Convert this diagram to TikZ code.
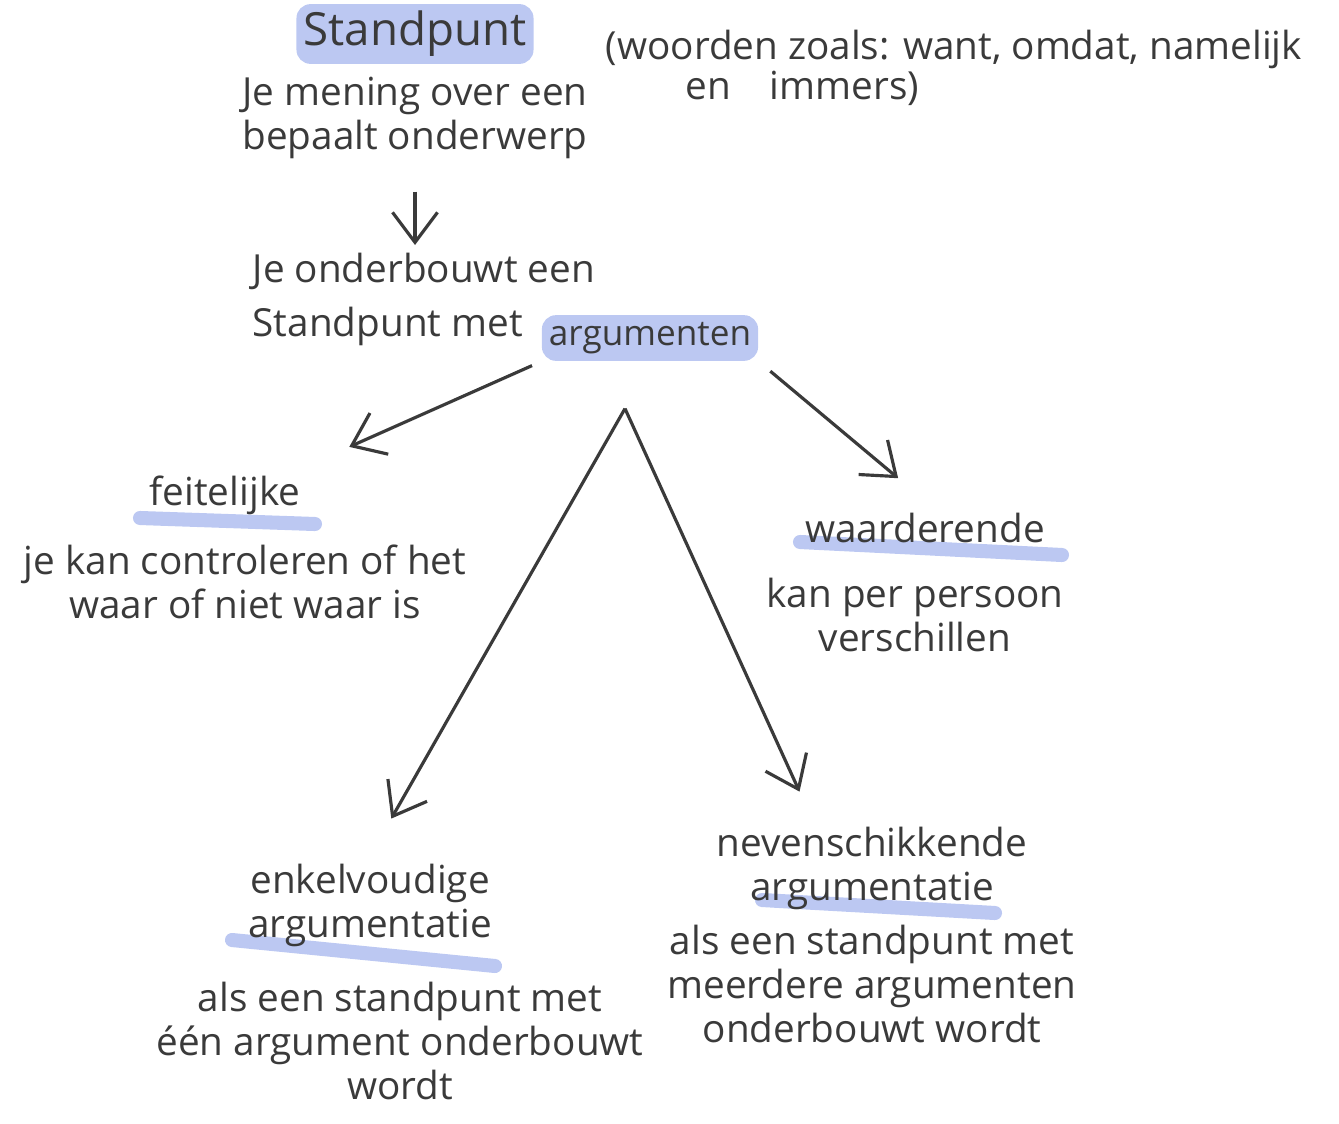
\documentclass[tikz,border=0pt]{standalone}
\usepackage{fontspec}
\setmainfont{Open Sans}
\usepackage{tikz}
\usetikzlibrary{arrows.meta,positioning,backgrounds}
\definecolor{ink}{HTML}{3A3A3A}
\definecolor{marker}{HTML}{BCC8F2}

\begin{document}
\begin{tikzpicture}[
  x=0.01cm, y=-0.01cm,
  every node/.style={text=ink, font=\fontsize{11}{12.5}\selectfont},
  txt/.style={align=center, inner sep=2pt},
  hlbox/.style={fill=marker, rounded corners=4pt, inner sep=2pt},
  uline/.style={draw=marker, line width=4pt, line cap=round},
  arr/.style={-{Straight Barb[length=3mm,width=4.5mm]}, draw=ink, line width=0.9pt}
]
\useasboundingbox (0,0) rectangle (1339,1124);

\node[hlbox, font=\fontsize{13}{15}\selectfont] (stand) at (415,34) {Standpunt};
\node[txt, below=0.5mm of stand] (mening) {Je mening over een\\bepaalt onderwerp};
\node[txt, align=left, anchor=north west] (woorden) at (598,22)
  {(woorden zoals: want, omdat, namelijk\\[-0.4mm]\hspace*{8mm}en\quad immers)};

\node[txt, align=left, anchor=north west] (onder) at (245,245)
  {Je onderbouwt een\\[1mm]Standpunt met};
\node[hlbox, font=\fontsize{10}{12}\selectfont] (arg) at (650,338) {argumenten};
\coordinate (split) at ([xshift=-2.5mm, yshift=-4.7mm]arg.south);

\node (feit) at (225,495) {feitelijke};
\node[txt, below=1mm of feit, xshift=2mm] (feitt) {je kan controleren of het\\waar of niet waar is};

\node (waard) at (925,528) {waarderende};
\node[txt, below=1.5mm of waard, xshift=-1mm] (waardt) {kan per persoon\\verschillen};

\node[txt] (enkel) at (370,905) {enkelvoudige\\argumentatie};
\node[txt, below=2mm of enkel, xshift=3mm] (enkelt) {als een standpunt met\\één argument onderbouwt\\wordt};

\node[txt] (neven) at (872,868) {nevenschikkende\\argumentatie};
\node[txt, below=0mm of neven] (nevent) {als een standpunt met\\meerdere argumenten\\onderbouwt wordt};

% marker strepen
\begin{scope}[on background layer]
  \draw[uline] ([shift={(-85,23)}]feit.center) -- ([shift={(90,29)}]feit.center);
  \draw[uline] ([shift={(-125,14)}]waard.center) -- ([shift={(137,27)}]waard.center);
  \draw[uline] ([shift={(-138,35)}]enkel.center) -- ([shift={(125,61)}]enkel.center);
  \draw[uline] ([shift={(-110,32)}]neven.center) -- ([shift={(123,45)}]neven.center);
\end{scope}

\draw[arr, shorten <=2.5mm] (mening.south) -- (mening.south |- onder.north);
\draw[arr, shorten <=1mm, shorten >=4mm] (arg.south west) -- (feit.north east);
\draw[arr, shorten <=1.5mm, shorten >=3.5mm] (arg.south east) -- (waard.north);
\draw[arr, shorten >=4.3mm] (split) -- (enkel.north);
\draw[arr, shorten >=3mm] (split) -- ([xshift=-6mm]neven.north);
\end{tikzpicture}
\end{document}
